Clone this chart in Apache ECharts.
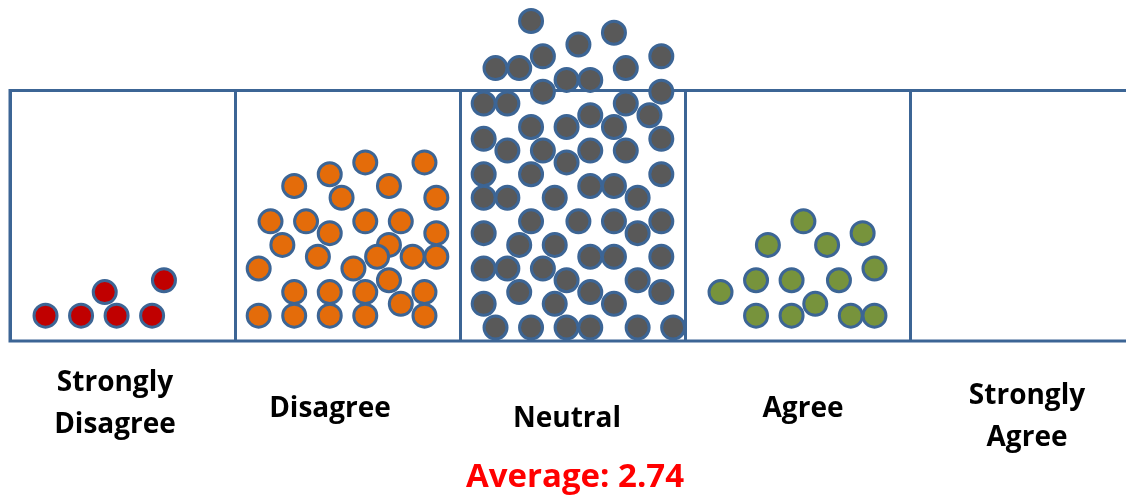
<!DOCTYPE html>
<html>
<head>
<meta charset="utf-8">
<style>
  html, body { margin: 0; padding: 0; background: #ffffff; }
  #main { width: 1126px; height: 497px; }
</style>
<script src="https://cdn.jsdelivr.net/npm/echarts@6/dist/echarts.min.js"></script>
</head>
<body>
<div id="main"></div>
<script>
// Likert response categories, left to right (score 1..5)
const categories = ['Strongly Disagree', 'Disagree', 'Neutral', 'Agree', 'Strongly Agree'];

// One dot per respondent: [column, row] on the half-dot grid inside each box
const stronglyDisagreeDots = [[3,1],[6,1],[8,3],[9,1],[12,1],[13,4]];
const disagreeDots = [
  [5,12],[8,13],[11,14],[16,14],[13,12],[9,11],[17,11],[3,9],[6,9],[11,9],[14,9],
  [8,8],[17,8],[4,7],[7,6],[13,7],[12,6],[15,6],[17,6],[2,5],[10,5],[13,4],
  [5,3],[8,3],[11,3],[16,3],[14,2],[2,1],[5,1],[8,1],[11,1],[16,1]
];
const neutralDots = [
  [6,26],[13,25],[10,24],[7,23],[17,23],[3,22],[5,22],[14,22],[9,21],[11,21],
  [7,20],[17,20],[2,19],[4,19],[14,19],[16,18],[11,18],[6,17],[9,17],[13,17],
  [2,16],[17,16],[4,15],[7,15],[11,15],[14,15],[9,14],[2,13],[6,13],[17,13],
  [11,12],[13,12],[2,11],[4,11],[8,11],[15,11],[6,9],[10,9],[13,9],[17,9],
  [2,8],[15,8],[5,7],[8,7],[11,6],[13,6],[17,6],[2,5],[4,5],[7,5],
  [9,4],[15,4],[5,3],[11,3],[17,3],[2,2],[8,2],[13,2],
  [3,0],[6,0],[9,0],[11,0],[15,0],[18,0]
];
const agreeDots = [
  [10,9],[15,8],[7,7],[12,7],[16,5],[6,4],[9,4],[13,4],[3,3],[11,2],
  [6,1],[9,1],[14,1],[16,1]
];
const stronglyAgreeDots = [];

const dotSets = [stronglyDisagreeDots, disagreeDots, neutralDots, agreeDots, stronglyAgreeDots];

// Styling
const fills = ['#c00000', '#e46c0a', '#595959', '#77933c', '#4f81bd'];
const outline = '#3c6595';
const SLOTS = 19;               // grid columns per box
const BOX_PX = 225;             // width of one box
const labelFont = 'bold 28px "Open Sans", "Noto Sans", sans-serif';
const avgFont = 'bold 33px "Open Sans", "Noto Sans", sans-serif';
// per-label placement tweaks: horizontal nudge from box centre, vertical centre in px
const labelPlacement = [
  { dx: -7.5, y: 404 }, { dx: -17.5, y: 409 }, { dx: -5.5, y: 419 },
  { dx: 5.5, y: 409 }, { dx: 4.5, y: 417 }
];

const counts = dotSets.map(d => d.length);
const total = counts.reduce((a, b) => a + b, 0);
const average = counts.reduce((s, c, i) => s + c * (i + 1), 0) / total;

const chart = echarts.init(document.getElementById('main'), null, { renderer: 'canvas' });

const series = categories.map((name, i) => ({
  type: 'scatter',
  name,
  data: dotSets[i].map(([c, r]) => [i * SLOTS + c, r]),
  symbol: 'circle',
  symbolSize: 23,
  clip: false,
  silent: true,
  z: 5,
  itemStyle: { color: fills[i], borderColor: outline, borderWidth: 3, opacity: 1 }
}));

chart.setOption({
  animation: false,
  backgroundColor: '#ffffff',
  grid: {
    show: true, left: 10, top: 90.5, width: BOX_PX * categories.length, height: 250.5,
    outerBoundsMode: 'none', containLabel: false,
    borderColor: outline, borderWidth: 3, backgroundColor: 'transparent'
  },
  xAxis: {
    type: 'value', min: 0, max: SLOTS * categories.length, interval: SLOTS,
    axisLine: { show: false }, axisTick: { show: false }, axisLabel: { show: false },
    splitLine: { show: true, lineStyle: { color: outline, width: 3 } }
  },
  yAxis: {
    type: 'value', min: -1.15, max: 20.1,
    axisLine: { show: false }, axisTick: { show: false }, axisLabel: { show: false },
    splitLine: { show: false }
  },
  series
});

// Category captions under each box and the average score line
const graphics = categories.map((name, i) => {
  const cx = chart.convertToPixel({ xAxisIndex: 0 }, i * SLOTS + SLOTS / 2);
  return {
    type: 'text',
    x: cx + labelPlacement[i].dx,
    y: labelPlacement[i].y,
    silent: true,
    style: {
      text: name.replace('Strongly ', 'Strongly\n'),
      font: labelFont,
      fill: '#000000',
      lineHeight: 42,
      align: 'center', verticalAlign: 'middle',
      textAlign: 'center', textVerticalAlign: 'middle'
    }
  };
});
const midX = chart.convertToPixel({ xAxisIndex: 0 }, 2 * SLOTS + SLOTS / 2);
graphics.push({
  type: 'text',
  x: midX + 2.5,
  y: 478,
  silent: true,
  style: {
    text: 'Average: ' + average.toFixed(2),
    font: avgFont,
    fill: '#ff0000',
    align: 'center', verticalAlign: 'middle',
    textAlign: 'center', textVerticalAlign: 'middle'
  }
});
chart.setOption({ graphic: graphics });
</script>
</body>
</html>
